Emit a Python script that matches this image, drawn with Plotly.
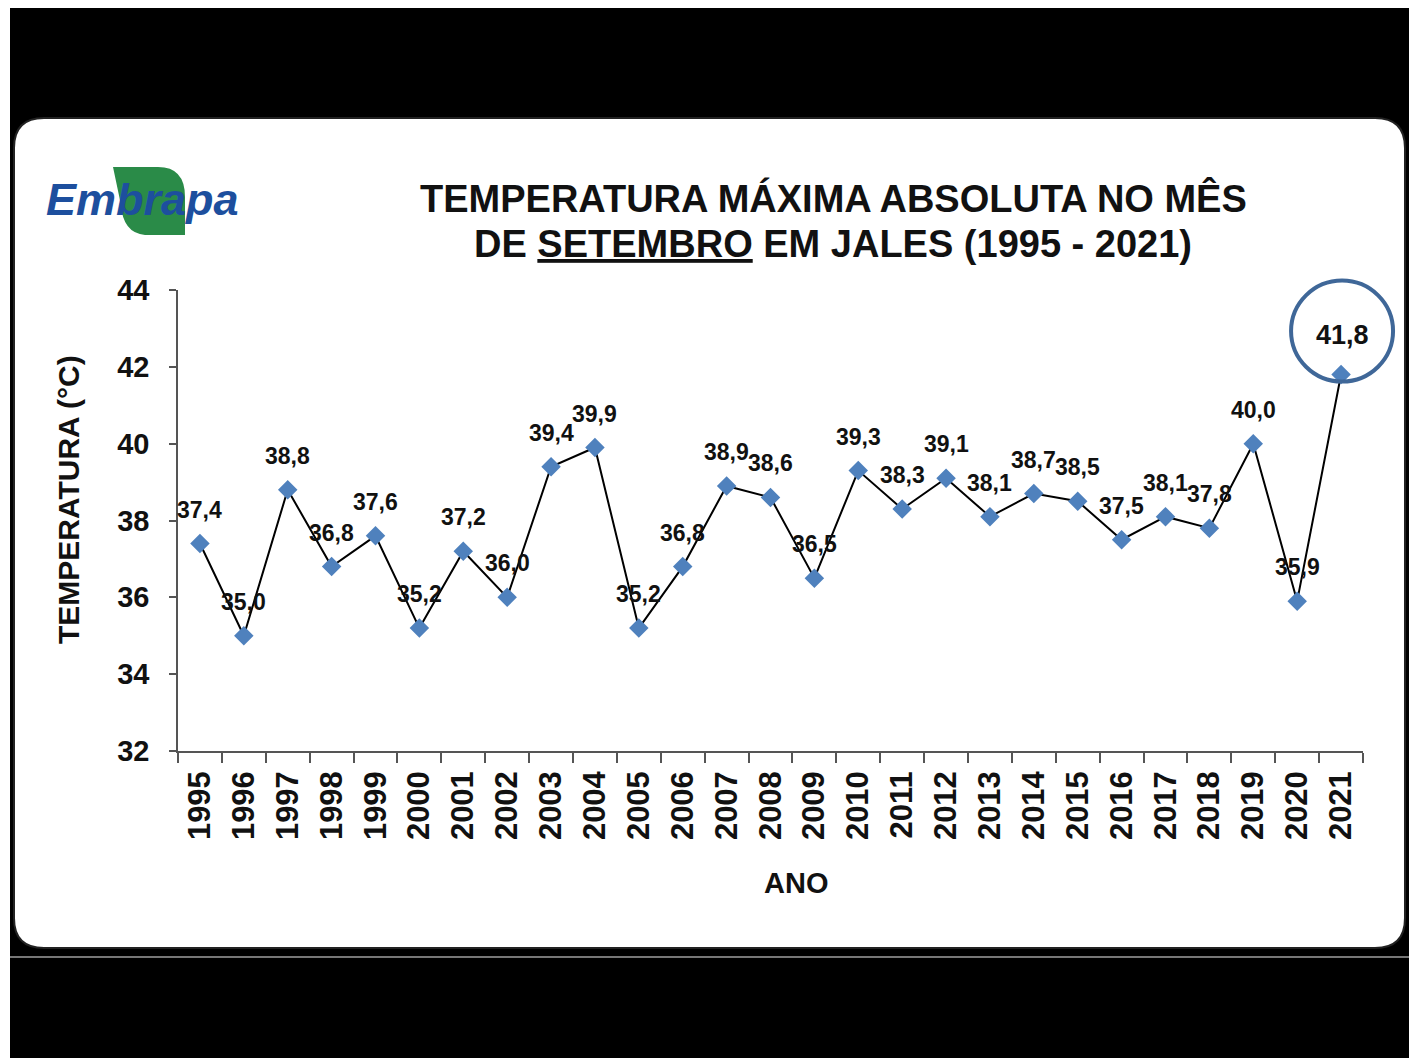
import plotly.graph_objects as go

# ---------------- data ----------------
years = ["1995", "1996", "1997", "1998", "1999", "2000", "2001", "2002", "2003",
         "2004", "2005", "2006", "2007", "2008", "2009", "2010", "2011", "2012",
         "2013", "2014", "2015", "2016", "2017", "2018", "2019", "2020", "2021"]
tmax = [37.4, 35.0, 38.8, 36.8, 37.6, 35.2, 37.2, 36.0, 39.4,
        39.9, 35.2, 36.8, 38.9, 38.6, 36.5, 39.3, 38.3, 39.1,
        38.1, 38.7, 38.5, 37.5, 38.1, 37.8, 40.0, 35.9, 41.8]
y_ticks = [32, 34, 36, 38, 40, 42, 44]
y_range = [32, 44]

title_l1 = "TEMPERATURA MÁXIMA ABSOLUTA NO MÊS"
title_l2 = "DE <u>SETEMBRO</u> EM JALES (1995 - 2021)"
y_title = "TEMPERATURA (°C)"
x_title = "ANO"
logo_text = "Embrapa"

# ---------------- geometry (figure pixels) ----------------
W, H = 1399, 1050
OFFX, OFFY = 10, 8          # page offset of the figure
ML, MR, MT, MB = 168, 46, 282, 307
PW, PH = W - ML - MR, H - MT - MB
FONT = "Liberation Sans, Arial, sans-serif"


def px(xp):   # page x -> paper
    return (xp - OFFX - ML) / PW


def py(yp):   # page y -> paper
    return (H - MB - (yp - OFFY)) / PH


def P(x, y):
    return f"{px(x):.5f},{py(y):.5f}"


def rrect(x0, y0, x1, y1, r):
    s = f"M {P(x0 + r, y0)} L {P(x1 - r, y0)} Q {P(x1, y0)} {P(x1, y0 + r)} "
    s += f"L {P(x1, y1 - r)} Q {P(x1, y1)} {P(x1 - r, y1)} "
    s += f"L {P(x0 + r, y1)} Q {P(x0, y1)} {P(x0, y1 - r)} "
    s += f"L {P(x0, y0 + r)} Q {P(x0, y0)} {P(x0 + r, y0)} Z"
    return s


def leaf():
    s = f"M {P(113, 167)} L {P(158, 167)} Q {P(185, 167)} {P(185, 197)} "
    s += f"L {P(185, 235)} L {P(145, 235)} Q {P(123, 233)} {P(121, 205)} "
    s += f"L {P(113, 167)} Z"
    return s


fig = go.Figure()

fig.add_trace(go.Scatter(
    x=years, y=tmax, mode="lines+markers",
    line=dict(color="#000000", width=2),
    marker=dict(symbol="diamond", size=15, color="#4F81BD",
                line=dict(width=0)),
    hoverinfo="skip", showlegend=False,
))

annotations = []
n = len(years)
for i, v in enumerate(tmax):
    last = i == n - 1
    annotations.append(dict(
        x=i, y=v, xref="x", yref="y",
        text=f"{v:.1f}".replace(".", ","),
        showarrow=False, yshift=40 if last else 34,
        xshift=1 if last else 0,
        font=dict(family=FONT, size=27 if last else 23, color="#111111",
                  weight="bold"),
        xanchor="center", yanchor="middle",
    ))

# title (two lines placed separately to match line spacing)
for txt, yc in ((title_l1, 199), (title_l2, 244)):
    annotations.append(dict(
        x=px(833), y=py(yc), xref="paper", yref="paper",
        text=txt, showarrow=False,
        xanchor="center", yanchor="middle", align="center",
        font=dict(family=FONT, size=38, color="#111111", weight="bold"),
    ))
# y title
annotations.append(dict(
    x=px(68), y=py(500), xref="paper", yref="paper",
    text=y_title, showarrow=False, textangle=-90,
    xanchor="center", yanchor="middle",
    font=dict(family=FONT, size=30, color="#111111", weight="bold"),
))
# x title
annotations.append(dict(
    x=px(796), y=py(883), xref="paper", yref="paper",
    text=x_title, showarrow=False,
    xanchor="center", yanchor="middle",
    font=dict(family=FONT, size=29, color="#111111", weight="bold"),
))
# logo text
annotations.append(dict(
    x=px(142), y=py(200), xref="paper", yref="paper",
    text="<i>" + logo_text + "</i>", showarrow=False,
    xanchor="center", yanchor="middle",
    font=dict(family=FONT, size=45, color="#1D4F9E", weight="bold"),
))

# highlight circle anchored at the last data point (paper coords from axis ranges)
last_xp = (n - 1 + 0.5) / n
last_yp = (tmax[-1] - y_range[0]) / (y_range[1] - y_range[0])

shapes = [
    # white rounded panel
    dict(type="path", xref="paper", yref="paper", path=rrect(14, 118, 1405, 948, 30),
         fillcolor="#FFFFFF", line=dict(color="#222222", width=2), layer="below"),
    # thin grey line at the bottom band
    dict(type="line", xref="paper", yref="paper", x0=px(10), x1=px(1409),
         y0=py(957), y1=py(957), line=dict(color="#777777", width=2), layer="below"),
    # logo leaf
    dict(type="path", xref="paper", yref="paper", path=leaf(),
         fillcolor="#2A8B48", line=dict(width=0), layer="below"),
    # highlight circle around the last value
    dict(type="circle", xref="paper", yref="paper",
         xsizemode="pixel", ysizemode="pixel",
         xanchor=last_xp, yanchor=last_yp,
         x0=-50, x1=52, y0=-7, y1=94,
         line=dict(color="#3F6798", width=4), fillcolor="rgba(0,0,0,0)"),
]

fig.update_layout(
    width=W, height=H,
    margin=dict(l=ML, r=MR, t=MT, b=MB, pad=0),
    paper_bgcolor="#000000", plot_bgcolor="rgba(0,0,0,0)",
    showlegend=False,
    annotations=annotations, shapes=shapes,
    xaxis=dict(
        type="category", categoryorder="array", categoryarray=years,
        range=[-0.5, n - 0.5], autorange=False,
        tickson="boundaries", ticks="outside", ticklen=10, tickwidth=1.5,
        tickcolor="#555555", showline=True, linecolor="#555555", linewidth=1.5,
        showgrid=False, zeroline=False, tickangle=-90,
        tickfont=dict(family=FONT, size=31, color="#111111", weight="bold"),
        ticklabelstandoff=6,
    ),
    yaxis=dict(
        range=y_range, autorange=False, tickvals=y_ticks,
        ticktext=[str(t) for t in y_ticks],
        ticks="outside", ticklen=7, tickwidth=1.5, tickcolor="#555555",
        showline=True, linecolor="#555555", linewidth=1.5,
        showgrid=False, zeroline=False,
        tickfont=dict(family=FONT, size=29, color="#111111", weight="bold"),
        ticklabelstandoff=14,
    ),
)

fig.write_html(
    "out.html",
    config={"displayModeBar": False},
    post_script="document.body.style.margin='8px 0 0 10px';"
                "document.body.style.overflow='hidden';",
)
